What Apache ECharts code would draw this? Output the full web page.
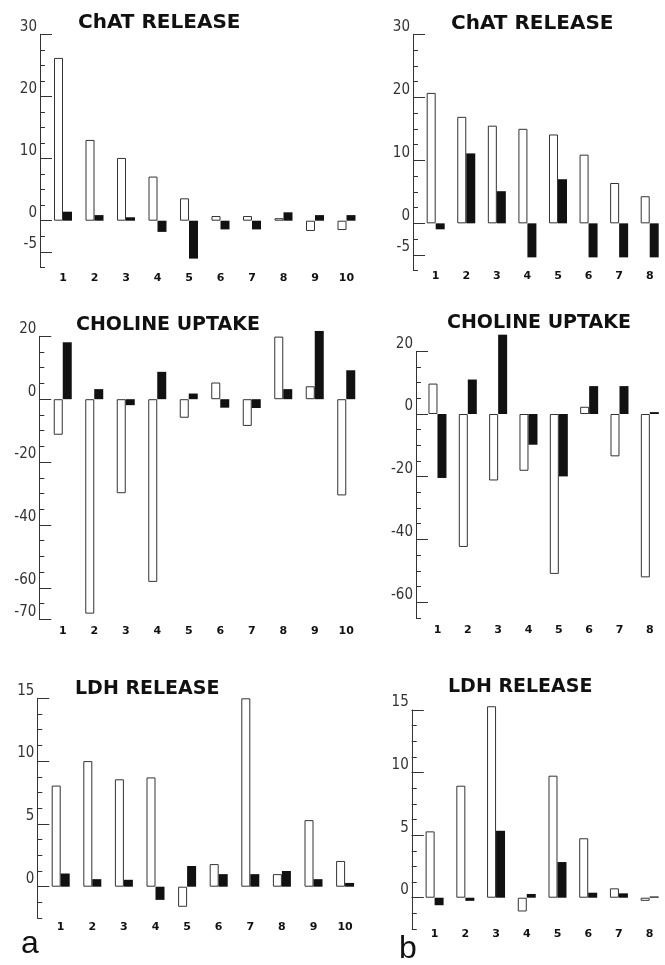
<!DOCTYPE html>
<html>
<head>
<meta charset="utf-8">
<script src="https://cdn.jsdelivr.net/npm/echarts@6/dist/echarts.min.js"></script>
<style>
  html, body { margin: 0; background: #fff; }
  #chart { width: 665px; height: 965px; }
</style>
</head>
<body>
<div id="chart"></div>
<script>
// categories (panel b is cut off at the right edge after 8)
const catsA = ['1', '2', '3', '4', '5', '6', '7', '8', '9', '10']
const catsB = ['1', '2', '3', '4', '5', '6', '7', '8']

// panel a values (white = open bar, black = filled bar)
const chatA_white = [26.2, 13.0, 10.1, 7.1, 3.6, 0.75, 0.75, 0.4, -1.65, -1.5]
const chatA_black = [1.45, 0.9, 0.55, -1.8, -6.1, -1.4, -1.4, 1.35, 0.9, 0.9]
const cholA_white = [-11.3, -68.2, -29.9, -58.1, -5.9, 5.3, -8.5, 19.9, 4.1, -30.6]
const cholA_black = [18.1, 3.2, -1.9, 8.7, 1.8, -2.7, -2.8, 3.2, 21.7, 9.2]
const ldhA_white = [8.05, 10.0, 8.55, 8.7, -1.6, 1.8, 15.0, 1.0, 5.3, 2.05]
const ldhA_black = [1.05, 0.6, 0.55, -1.05, 1.65, 1.0, 1.0, 1.25, 0.6, 0.3]

// panel b values
const chatB_white = [20.7, 16.9, 15.5, 15.0, 14.1, 10.9, 6.4, 4.3]
const chatB_black = [-0.95, 11.1, 5.1, -5.4, 7.0, -5.4, -5.4, -5.4]
const cholB_white = [9.7, -42.4, -21.2, -18.1, -51.0, 2.3, -13.5, -52.1]
const cholB_black = [-20.4, 11.0, 25.3, -9.8, -19.9, 8.9, 8.9, 0.6]
const ldhB_white = [5.3, 8.95, 15.3, -1.1, 9.75, 4.75, 0.75, -0.25]
const ldhB_black = [-0.6, -0.25, 5.35, 0.3, 2.85, 0.4, 0.35, 0.1]

// y tick labels
const chatTicks = [30, 20, 10, 0, -5]
const cholTicksA = [20, 0, -20, -40, -60, -70]
const cholTicksB = [20, 0, -20, -40, -60]
const ldhTicks = [15, 10, 5, 0]

const chart = echarts.init(document.getElementById('chart'))

// small ticks between min and max
function minorTicks (min, max, step) {
  const out = []
  for (let v = min; v <= max + 1e-9; v += step) out.push(+v.toFixed(3))
  return out
}

const grid = [], xAxis = [], yAxis = [], series = [], title = []

// one panel = one grid, one category axis, two y axes (long + short ticks)
function panel (p) {
  const gi = grid.length
  grid.push({ left: p.left, top: p.top, width: p.width, height: p.height })
  xAxis.push({
    type: 'category', gridIndex: gi, data: p.cats,
    axisLine: { show: false }, axisTick: { show: false },
    axisLabel: { margin: p.labelMargin, fontSize: 11, fontWeight: 'bold', color: '#111', fontFamily: 'DejaVu Sans' },
  })
  const yi = yAxis.length
  yAxis.push({
    type: 'value', gridIndex: gi, min: p.min, max: p.max, position: 'left', offset: p.offset,
    axisLine: { show: true, lineStyle: { color: '#333', width: 1 } },
    axisTick: { show: true, inside: true, length: 12, customValues: p.ticks, lineStyle: { color: '#333' } },
    axisLabel: {
      customValues: p.ticks, margin: 3, fontSize: 15, color: '#333', verticalAlign: 'bottom',
      fontFamily: 'Liberation Sans Narrow, DejaVu Sans Condensed, Liberation Sans',
    },
    splitLine: { show: false },
  })
  yAxis.push({
    type: 'value', gridIndex: gi, min: p.min, max: p.max, position: 'left', offset: p.offset,
    axisLine: { show: false }, axisLabel: { show: false }, splitLine: { show: false },
    axisTick: { show: true, inside: true, length: 5, customValues: minorTicks(p.min, p.max, p.step), lineStyle: { color: '#333' } },
  })
  series.push({
    type: 'bar', xAxisIndex: gi, yAxisIndex: yi, data: p.white, barWidth: 9, barGap: '0%', clip: false,
    itemStyle: { color: '#fff', borderColor: '#333', borderWidth: 1 },
  })
  series.push({
    type: 'bar', xAxisIndex: gi, yAxisIndex: yi, data: p.black, barWidth: 9, barGap: '0%', clip: false,
    itemStyle: { color: '#111' },
  })
  title.push({
    text: p.title, left: p.titleX, top: p.titleY, padding: 0,
    textStyle: { fontFamily: 'DejaVu Sans', fontWeight: 'bold', fontSize: p.titleSize, color: '#111' },
  })
}

// panel a
panel({ title: 'ChAT RELEASE', titleX: 78, titleY: 13, titleSize: 20, cats: catsA, white: chatA_white, black: chatA_black,
  min: -7.5, max: 30, step: 2.5, ticks: chatTicks, left: 47.25, top: 34.3, width: 315, height: 233, offset: 7.25, labelMargin: 5 })
panel({ title: 'CHOLINE UPTAKE', titleX: 76, titleY: 316, titleSize: 19, cats: catsA, white: cholA_white, black: cholA_black,
  min: -70, max: 20, step: 5, ticks: cholTicksA, left: 47, top: 336.3, width: 315, height: 283, offset: 7.7, labelMargin: 6 })
panel({ title: 'LDH RELEASE', titleX: 75, titleY: 680, titleSize: 19, cats: catsA, white: ldhA_white, black: ldhA_black,
  min: -2.5, max: 15, step: 1.25, ticks: ldhTicks, left: 44.9, top: 698.3, width: 316, height: 219.8, offset: 7.6, labelMargin: 4 })

// panel b
panel({ title: 'ChAT RELEASE', titleX: 451, titleY: 14, titleSize: 20, cats: catsB, white: chatB_white, black: chatB_black,
  min: -7.5, max: 30, step: 2.5, ticks: chatTicks, left: 420.4, top: 34.3, width: 250.4, height: 236.3, offset: 7.4, labelMargin: 0 })
panel({ title: 'CHOLINE UPTAKE', titleX: 447, titleY: 314, titleSize: 19, cats: catsB, white: cholB_white, black: cholB_black,
  min: -65, max: 20, step: 5, ticks: cholTicksB, left: 422.3, top: 351.3, width: 251.2, height: 266.5, offset: 6.3, labelMargin: 7 })
panel({ title: 'LDH RELEASE', titleX: 448, titleY: 678, titleSize: 19, cats: catsB, white: ldhB_white, black: ldhB_black,
  min: -2.5, max: 15, step: 1.25, ticks: ldhTicks, left: 419.25, top: 710, width: 252, height: 219, offset: 7.5, labelMargin: 0 })

chart.setOption({
  animation: false,
  backgroundColor: '#fff',
  title,
  grid,
  xAxis,
  yAxis,
  series,
  graphic: [
    { type: 'text', left: 21, top: 928, style: { text: 'a', fontSize: 32, fontFamily: 'Liberation Sans', fill: '#111' } },
    { type: 'text', left: 399, top: 933, style: { text: 'b', fontSize: 32, fontFamily: 'Liberation Sans', fill: '#111' } },
  ],
})
</script>
</body>
</html>
